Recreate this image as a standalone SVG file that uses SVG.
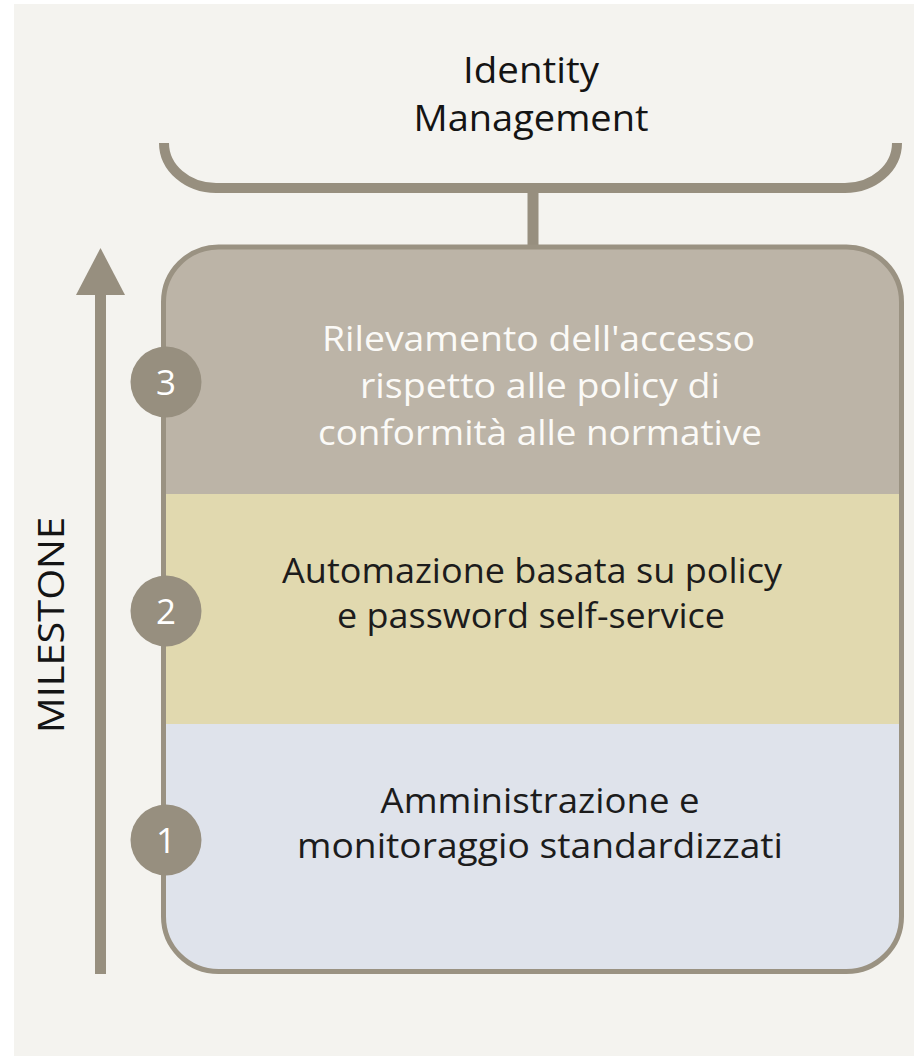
<svg xmlns="http://www.w3.org/2000/svg" width="914" height="1056" viewBox="0 0 914 1056">
  <style>
    .t { font-family: "Open Sans", "Liberation Sans", sans-serif; text-anchor: middle; }
    .title { font-size: 36px; fill: #141414; }
    .body { font-size: 34px; }
    .light { fill: #fbfaf7; }
    .dark { fill: #1c1c1c; }
    .num { font-family: "Open Sans", "Liberation Sans", sans-serif; font-size: 35px; fill: #ffffff; text-anchor: middle; }
    .badge { fill: #978f7f; }
    .line { stroke: #978f7f; fill: none; }
  </style>
  <defs>
    <clipPath id="boxClip">
      <rect x="163.5" y="247" width="738" height="724.5" rx="55" ry="55"/>
    </clipPath>
  </defs>

  <rect x="0" y="0" width="914" height="1056" fill="#ffffff"/>
  <rect x="14" y="4" width="900" height="1052" fill="#f4f3ef"/>

  <g id="title">
    <text class="t title" x="531" y="83" textLength="136" lengthAdjust="spacingAndGlyphs">Identity</text>
    <text class="t title" x="531" y="131" textLength="235" lengthAdjust="spacingAndGlyphs">Management</text>
  </g>

  <g id="connectors">
    <path class="line" stroke-width="10" d="M164,143 A52,45 0 0 0 216,188 H845 A52,45 0 0 0 897,143"/>
    <line class="line" stroke-width="11" x1="533" y1="188" x2="533" y2="247"/>
    <line class="line" stroke-width="11" x1="100.5" y1="290" x2="100.5" y2="974"/>
    <polygon class="badge" points="100.5,248 76,295 125,295"/>
  </g>

  <g id="milestone-label">
    <text class="t" transform="translate(64,625) rotate(-90)" font-size="37" fill="#141414" textLength="216" lengthAdjust="spacingAndGlyphs">MILESTONE</text>
  </g>

  <g id="box">
    <g clip-path="url(#boxClip)">
      <rect x="150" y="240" width="760" height="254" fill="#bcb4a7"/>
      <rect x="150" y="494" width="760" height="230" fill="#e1d9af"/>
      <rect x="150" y="724" width="760" height="260" fill="#dfe3eb"/>
    </g>
    <rect x="163.5" y="247" width="738" height="724.5" rx="55" ry="55" fill="none" stroke="#9a9282" stroke-width="5"/>
  </g>

  <g id="milestone-3">
    <circle class="badge" cx="166" cy="382" r="35.5"/>
    <text class="num" x="166" y="395">3</text>
    <text class="t body light" x="538.5" y="351" textLength="433" lengthAdjust="spacingAndGlyphs">Rilevamento dell'accesso</text>
    <text class="t body light" x="540" y="398" textLength="360" lengthAdjust="spacingAndGlyphs">rispetto alle policy di</text>
    <text class="t body light" x="540" y="445" textLength="444" lengthAdjust="spacingAndGlyphs">conformità alle normative</text>
  </g>

  <g id="milestone-2">
    <circle class="badge" cx="166" cy="611" r="35.5"/>
    <text class="num" x="166" y="624">2</text>
    <text class="t body dark" x="532" y="583" textLength="500" lengthAdjust="spacingAndGlyphs">Automazione basata su policy</text>
    <text class="t body dark" x="531" y="628" textLength="388" lengthAdjust="spacingAndGlyphs">e password self-service</text>
  </g>

  <g id="milestone-1">
    <circle class="badge" cx="166" cy="840" r="35.5"/>
    <text class="num" x="166" y="853">1</text>
    <text class="t body dark" x="540" y="813" textLength="319" lengthAdjust="spacingAndGlyphs">Amministrazione e</text>
    <text class="t body dark" x="540" y="858" textLength="486" lengthAdjust="spacingAndGlyphs">monitoraggio standardizzati</text>
  </g>
</svg>
